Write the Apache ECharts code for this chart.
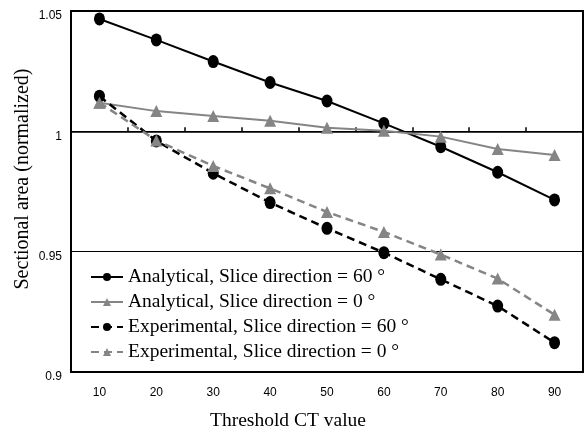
<!DOCTYPE html>
<html>
<head>
<meta charset="utf-8">
<script src="https://cdn.jsdelivr.net/npm/echarts@6/dist/echarts.min.js"></script>
<style>
  html, body { margin: 0; padding: 0; background: #fff; }
  #chart { width: 588px; height: 432px; }
</style>
</head>
<body>
<div id="chart"></div>
<script>
const thresholds = ['10', '20', '30', '40', '50', '60', '70', '80', '90'];

const analytical60 = [1.0467, 1.0380, 1.0290, 1.0203, 1.0126, 1.0033, 0.9936, 0.9830, 0.9715];
const analytical0 = [1.0119, 1.0084, 1.0064, 1.0044, 1.0015, 1.0002, 0.9978, 0.9927, 0.9902];
const experimental60 = [1.0146, 0.9960, 0.9826, 0.9704, 0.9597, 0.9496, 0.9385, 0.9274, 0.9122];
const experimental0 = [1.0119, 0.9962, 0.9856, 0.9763, 0.9665, 0.9582, 0.9488, 0.9388, 0.9238];

const seriesNames = [
  'Analytical, Slice direction = 60 °',
  'Analytical, Slice direction = 0 °',
  'Experimental, Slice direction = 60 °',
  'Experimental, Slice direction = 0 °',
];

const black = '#000000';
const grey = '#858585';
const serif = '"Liberation Serif", "Times New Roman", serif';
const narrow = '"Liberation Sans Narrow", "Liberation Sans", Arial, sans-serif';

const chart = echarts.init(document.getElementById('chart'), null, { renderer: 'canvas' });

// grid geometry, used to put the x axis line on y = 1
const gridTop = 11;
const gridBottom = 60;
const plotHeight = 432 - gridTop - gridBottom;
const yMin = 0.9;
const yMax = 1.05;
const crossAt = 1;
const crossOffset = -plotHeight * (crossAt - yMin) / (yMax - yMin);

function lineSeries(name, data, color, dashed, symbol, size) {
  return {
    name: name,
    type: 'line',
    data: data,
    xAxisIndex: 0,
    symbol: symbol,
    symbolSize: size,
    showSymbol: true,
    animation: false,
    itemStyle: { color: color, borderWidth: 0 },
    lineStyle: {
      color: color,
      width: dashed ? 2.5 : 2,
      type: dashed ? [8, 5] : 'solid',
    },
    emphasis: { disabled: true },
  };
}

chart.setOption({
  backgroundColor: '#fff',
  animation: false,
  grid: {
    left: 71,
    right: 5,
    top: gridTop,
    bottom: gridBottom,
    show: true,
    borderColor: black,
    borderWidth: 2,
    backgroundColor: 'transparent',
  },
  legend: {
    orient: 'vertical',
    left: 85,
    top: 262,
    itemWidth: 32,
    itemHeight: 10,
    itemGap: 5,
    data: seriesNames,
    textStyle: { fontFamily: serif, fontSize: 19.5, lineHeight: 20, color: black },
  },
  xAxis: [
    {
      type: 'category',
      data: thresholds,
      position: 'bottom',
      boundaryGap: true,
      axisLine: { show: true, lineStyle: { color: black, width: 2 } },
      axisTick: { show: false },
      axisLabel: { color: black, fontFamily: narrow, fontSize: 12, margin: 15 },
      splitLine: { show: false },
    },
    {
      // the horizontal axis crosses at y = 1, labels stay at the bottom
      type: 'category',
      data: thresholds,
      position: 'bottom',
      offset: crossOffset,
      boundaryGap: true,
      axisLine: { show: true, onZero: false, lineStyle: { color: black, width: 1.5 } },
      axisTick: { show: true, inside: true, length: 4, lineStyle: { color: black, width: 1.5 } },
      axisLabel: { show: false },
      splitLine: { show: false },
    },
  ],
  yAxis: {
    type: 'value',
    min: yMin,
    max: yMax,
    interval: 0.05,
    axisLine: { show: true, lineStyle: { color: black, width: 2 } },
    axisTick: { show: false },
    axisLabel: {
      color: black,
      fontFamily: narrow,
      fontSize: 12,
      margin: 9,
      verticalAlign: 'top',
      lineHeight: 10,
      formatter: (v) => String(Number(v.toFixed(2))),
    },
    splitLine: { show: true, lineStyle: { color: black, width: 1 } },
  },
  graphic: [
    {
      type: 'text',
      x: 288,
      y: 421,
      style: {
        text: 'Threshold CT value',
        align: 'center',
        verticalAlign: 'middle',
        font: '19.5px ' + serif,
        fill: black,
      },
    },
    {
      type: 'text',
      rotation: Math.PI / 2,
      x: 23,
      y: 179,
      style: {
        text: 'Sectional area (normalized)',
        align: 'center',
        verticalAlign: 'middle',
        font: '20px ' + serif,
        fill: black,
      },
    },
  ],
  series: [
    lineSeries(seriesNames[0], analytical60, black, false, 'circle', [11, 13]),
    lineSeries(seriesNames[1], analytical0, grey, false, 'triangle', 12),
    lineSeries(seriesNames[2], experimental60, black, true, 'circle', [11, 13]),
    lineSeries(seriesNames[3], experimental0, grey, true, 'triangle', 12),
  ],
});
</script>
</body>
</html>
